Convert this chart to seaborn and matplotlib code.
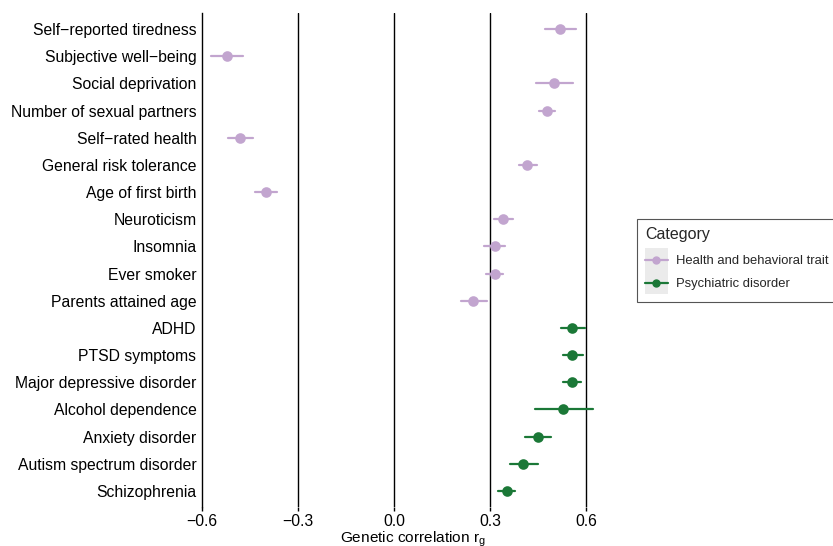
import matplotlib
matplotlib.use("Agg")
import matplotlib.pyplot as plt
import seaborn as sns
import pandas as pd
from matplotlib.lines import Line2D
from matplotlib.patches import Patch
from matplotlib.legend_handler import HandlerTuple, HandlerLine2D

traits = ["Self−reported tiredness", "Subjective well−being", "Social deprivation",
          "Number of sexual partners", "Self−rated health", "General risk tolerance",
          "Age of first birth", "Neuroticism", "Insomnia", "Ever smoker",
          "Parents attained age", "ADHD", "PTSD symptoms", "Major depressive disorder",
          "Alcohol dependence", "Anxiety disorder", "Autism spectrum disorder", "Schizophrenia"]
categories = ["Health and behavioral trait"] * 11 + ["Psychiatric disorder"] * 7
rg = [0.520, -0.523, 0.501, 0.479, -0.481, 0.417, -0.400, 0.341, 0.315, 0.315,
      0.248, 0.557, 0.557, 0.557, 0.529, 0.450, 0.404, 0.352]
ci_low = [0.472, -0.572, 0.444, 0.453, -0.518, 0.391, -0.434, 0.312, 0.281, 0.288,
          0.208, 0.522, 0.528, 0.528, 0.440, 0.409, 0.362, 0.325]
ci_high = [0.568, -0.473, 0.558, 0.502, -0.440, 0.446, -0.365, 0.371, 0.347, 0.340,
           0.290, 0.597, 0.590, 0.583, 0.621, 0.490, 0.449, 0.377]
xticks = [-0.6, -0.3, 0.0, 0.3, 0.6]
palette = {"Health and behavioral trait": "#c2a5cf", "Psychiatric disorder": "#1b7837"}

rows = []
for t, c, lo, e, hi in zip(traits, categories, ci_low, rg, ci_high):
    for v in (lo, e, hi):
        rows.append({"Trait": t, "Category": c, "value": v})
df = pd.DataFrame(rows)

sns.set_style("white")
plt.rcParams["font.family"] = ["Liberation Sans", "DejaVu Sans"]

XMAX = 0.72
x_right = 394 + XMAX * 320
fig = plt.figure(figsize=(8.33, 5.46), dpi=100)
ax = fig.add_axes([202 / 833, 1 - 507.3 / 546, (x_right - 202) / 833, (507.3 - 12.7) / 546])

sns.pointplot(data=df, x="value", y="Trait", hue="Category", order=traits,
              hue_order=list(palette.keys()), palette=palette,
              estimator="median", errorbar=("pi", 100), linestyle="none",
              markersize=5.6, err_kws={"linewidth": 1.6}, orient="h", ax=ax,
              legend=False)

for xv in xticks[1:]:
    ax.axvline(xv, color="black", lw=1, zorder=0)

ax.set_xlim(-0.6, XMAX)
ax.set_ylim(17.6, -0.6)
ax.set_xticks(xticks)
ax.set_xticklabels(["−0.6", "−0.3", "0.0", "0.3", "0.6"])
ax.set_ylabel("")
ax.set_xlabel(r"Genetic correlation $\mathregular{r_g}$", fontsize=11.1, color="black", labelpad=0)
for s in ["top", "right", "bottom"]:
    ax.spines[s].set_visible(False)
ax.spines["left"].set_color("black")
ax.spines["left"].set_linewidth(1)
ax.tick_params(axis="x", bottom=True, length=3, width=1, color="black", labelsize=11.3, labelcolor="black", pad=2)
ax.tick_params(axis="y", left=False, length=0, labelsize=11.3, labelcolor="black", pad=4)


class CenteredLine(HandlerLine2D):
    def create_artists(self, legend, orig_handle, xdescent, ydescent, width, height, fontsize, trans):
        arts = super().create_artists(legend, orig_handle, xdescent, ydescent,
                                      width, height, fontsize, trans)
        for a in arts:
            a.set_ydata([y - ydescent / 2 for y in a.get_ydata()])
        return arts


handles = []
labels = list(palette.keys())
for lab in labels:
    bg = Patch(facecolor="#ebebeb", edgecolor="none")
    ln = Line2D([], [], color=palette[lab], lw=1.6, marker="o", markersize=5)
    handles.append((bg, ln))
leg = fig.legend(handles, labels, title="Category", loc="upper left",
                 bbox_to_anchor=(637 / 833, 1 - 219 / 546), fontsize=9.4,
                 title_fontsize=11.5, frameon=True, fancybox=False,
                 edgecolor="#555555", framealpha=1, alignment="left",
                 handler_map={tuple: HandlerTuple(ndivide=1, pad=0), Line2D: CenteredLine()},
                 handlelength=1.76, handleheight=2.35, labelspacing=0.0,
                 handletextpad=0.6, borderpad=0.6, borderaxespad=0)
leg._legend_box.sep = 4.5
leg.get_frame().set_linewidth(0.8)

fig.savefig("out.png", dpi=100)
